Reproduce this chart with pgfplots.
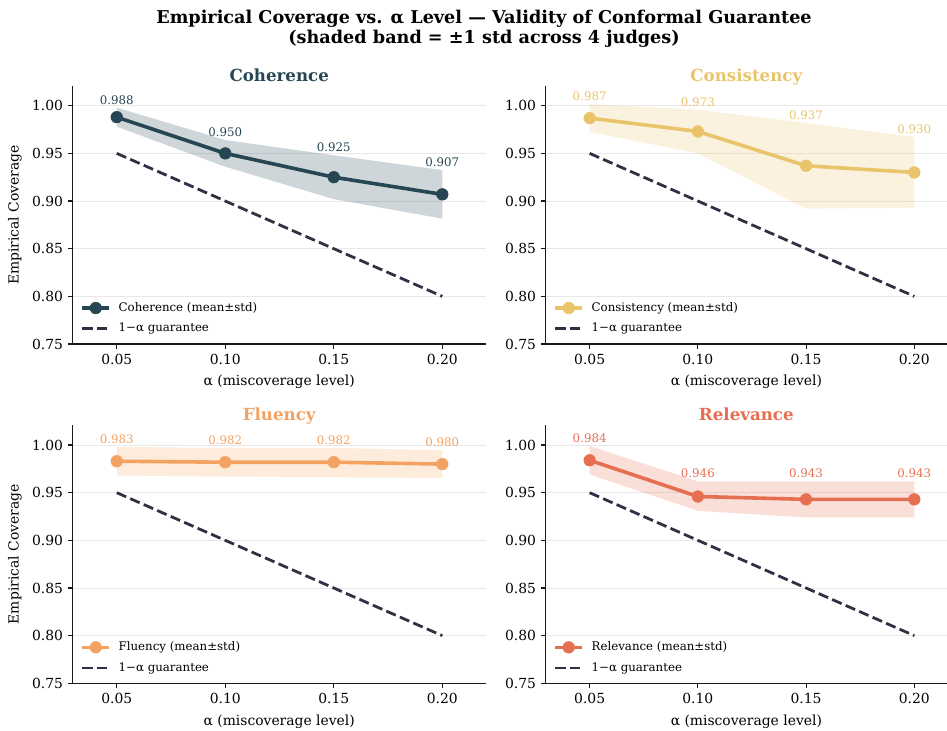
\documentclass[border=0pt]{standalone}
\usepackage{fontspec}
\setmainfont{DejaVu Serif}
\usepackage{pgfplots}
\pgfplotsset{compat=1.18}
\definecolor{cCoh}{HTML}{264653}
\definecolor{cCon}{HTML}{E9C46A}
\definecolor{cFlu}{HTML}{F4A261}
\definecolor{cRel}{HTML}{E76F51}
\definecolor{cGua}{RGB}{48,48,66}
\definecolor{spine}{RGB}{25,25,25}
\pgfplotsset{
  cov/.style={
    scale only axis, width=297.36pt, height=185.76pt,
    xmin=0.0297, xmax=0.22, ymin=0.75, ymax=1.0207,
    axis x line*=bottom, axis y line*=left,
    axis line style={-, line width=0.8pt, spine},
    xtick={0.05,0.1,0.15,0.2}, ytick={0.75,0.8,0.85,0.9,0.95,1.0},
    scaled ticks=false,
    tick align=outside, major tick length=3.5pt,
    tick style={line width=0.8pt, spine},
    /pgf/number format/fixed, /pgf/number format/fixed zerofill,
    /pgf/number format/precision=2, /pgf/number format/assume math mode=true,
    ticklabel style={font=\fontsize{10}{12}\selectfont, text=black},
    ymajorgrids, grid style={line width=0.6pt, gray!18},
    xlabel={α (miscoverage level)},
    xlabel style={font=\fontsize{10}{12}\selectfont, at={(axis description cs:0.5,-0.148)}, anchor=center},
    title style={font=\bfseries\fontsize{12}{14}\selectfont, at={(axis description cs:0.5,1)}, anchor=base, yshift=-2.7pt},
    legend style={at={(axis description cs:0,0)}, anchor=south west, xshift=4.4pt, yshift=4pt,
      draw=none, fill=none, font=\fontsize{8.5}{10}\selectfont, row sep=2.9pt, column sep=3.5pt, inner sep=1pt},
    legend cell align=left,
    legend image code/.code={\draw[mark repeat=2,mark phase=2] plot coordinates {(0pt,0pt)(9.7pt,0pt)(19.4pt,0pt)};},
  },
  yl/.style={ylabel={Empirical Coverage},
    ylabel style={font=\fontsize{10}{12}\selectfont, at={(axis description cs:-0.1397,0.5)}, anchor=center}},
  rightax/.style={width=288.94pt, xmax=0.2151},
  mean/.style={color=#1, line width=2.6pt, mark=*, mark size=4.2pt, mark options={solid, fill=#1, draw=#1, line width=0.4pt}},
  guar/.style={cGua, line width=2pt, dash pattern=on 7.4pt off 3.2pt},
  band/.style={fill=#1, fill opacity=0.22, draw=none, forget plot},
  lab/.style={draw=none, mark=none, forget plot, nodes near coords, point meta=explicit symbolic,
    nodes near coords style={anchor=base, inner sep=0pt, font=\fontsize{8.5}{10}\selectfont, text=#1}},
}
\begin{document}
\begin{tikzpicture}
\useasboundingbox (0,0) rectangle (681.84pt,525.6pt);
\node[anchor=base, font=\bfseries\fontsize{12.7}{15}\selectfont] at (348.5pt,509pt) {Empirical Coverage vs. α Level — Validity of Conformal Guarantee};
\node[anchor=base, font=\bfseries\fontsize{12.7}{15}\selectfont] at (348.5pt,494.6pt) {(shaded band = ±1 std across 4 judges)};

% Coherence
\begin{axis}[cov, yl, at={(52.34pt,277.92pt)}, anchor=south west, title={Coherence}, title style={text=cCoh}]
\addplot[band=cCoh] coordinates {(0.05,0.998) (0.10,0.964) (0.15,0.948) (0.20,0.9325) (0.20,0.8815) (0.15,0.902) (0.10,0.936) (0.05,0.978)};
\addplot[mean=cCoh] coordinates {(0.05,0.988) (0.10,0.950) (0.15,0.925) (0.20,0.907)};
\addlegendentry{Coherence (mean±std)}
\addplot[guar] coordinates {(0.05,0.95) (0.10,0.90) (0.15,0.85) (0.20,0.80)};
\addlegendentry{1−α guarantee}
\addplot[lab=cCoh] coordinates {(0.05,1.0015) [0.988] (0.10,0.9675) [0.950] (0.15,0.9515) [0.925] (0.20,0.936) [0.907]};
\end{axis}

% Consistency
\begin{axis}[cov, rightax, at={(392.9pt,277.92pt)}, anchor=south west, title={Consistency}, title style={text=cCon}]
\addplot[band=cCon] coordinates {(0.05,1.0015) (0.10,0.996) (0.15,0.982) (0.20,0.967) (0.20,0.893) (0.15,0.892) (0.10,0.950) (0.05,0.9725)};
\addplot[mean=cCon] coordinates {(0.05,0.987) (0.10,0.973) (0.15,0.937) (0.20,0.930)};
\addlegendentry{Consistency (mean±std)}
\addplot[guar] coordinates {(0.05,0.95) (0.10,0.90) (0.15,0.85) (0.20,0.80)};
\addlegendentry{1−α guarantee}
\addplot[lab=cCon] coordinates {(0.05,1.005) [0.987] (0.10,0.9995) [0.973] (0.15,0.9855) [0.937] (0.20,0.9705) [0.930]};
\end{axis}

% Fluency
\begin{axis}[cov, yl, at={(52.34pt,33.62pt)}, anchor=south west, title={Fluency}, title style={text=cFlu}]
\addplot[band=cFlu] coordinates {(0.05,0.998) (0.10,0.997) (0.15,0.997) (0.20,0.9945) (0.20,0.9655) (0.15,0.966) (0.10,0.967) (0.05,0.968)};
\addplot[mean=cFlu] coordinates {(0.05,0.983) (0.10,0.982) (0.15,0.982) (0.20,0.980)};
\addlegendentry{Fluency (mean±std)}
\addplot[guar] coordinates {(0.05,0.95) (0.10,0.90) (0.15,0.85) (0.20,0.80)};
\addlegendentry{1−α guarantee}
\addplot[lab=cFlu] coordinates {(0.05,1.0015) [0.983] (0.10,1.0005) [0.982] (0.15,1.0005) [0.982] (0.20,0.998) [0.980]};
\end{axis}

% Relevance
\begin{axis}[cov, rightax, at={(392.9pt,33.62pt)}, anchor=south west, title={Relevance}, title style={text=cRel}]
\addplot[band=cRel] coordinates {(0.05,0.999) (0.10,0.962) (0.15,0.962) (0.20,0.962) (0.20,0.924) (0.15,0.924) (0.10,0.931) (0.05,0.969)};
\addplot[mean=cRel] coordinates {(0.05,0.984) (0.10,0.946) (0.15,0.943) (0.20,0.943)};
\addlegendentry{Relevance (mean±std)}
\addplot[guar] coordinates {(0.05,0.95) (0.10,0.90) (0.15,0.85) (0.20,0.80)};
\addlegendentry{1−α guarantee}
\addplot[lab=cRel] coordinates {(0.05,1.0025) [0.984] (0.10,0.9655) [0.946] (0.15,0.9655) [0.943] (0.20,0.9655) [0.943]};
\end{axis}
\end{tikzpicture}
\end{document}
